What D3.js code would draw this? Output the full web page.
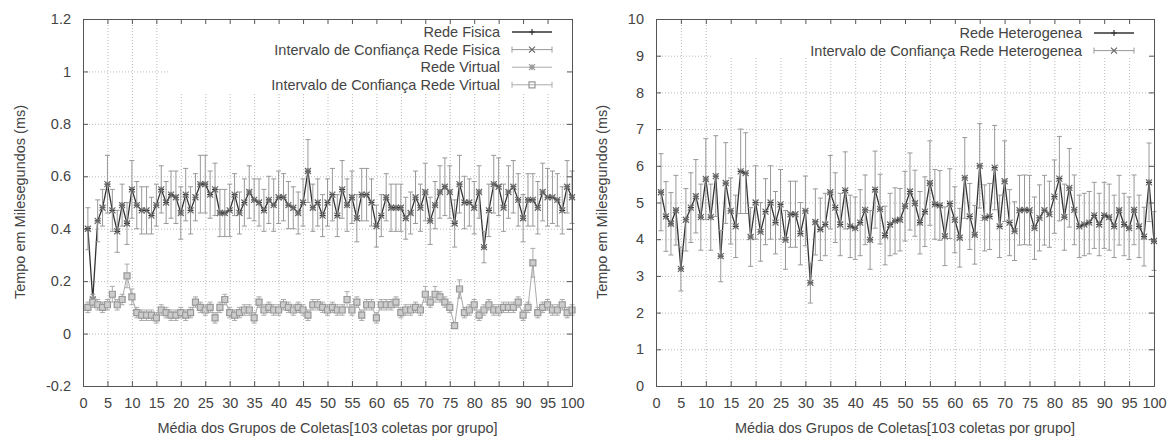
<!DOCTYPE html>
<html>
<head>
<meta charset="utf-8">
<script src="https://cdn.jsdelivr.net/npm/d3@7"></script>
<style>
	body { margin: 0; background: #fff; }
	svg { font-family: "Liberation Sans", Arial, sans-serif; }
	.axis text { font-size: 14.5px; fill: #444; }
	.axis path, .axis line { stroke: #555; }
	.mirror text { display: none; }
	.grid line { stroke: #bbb; stroke-dasharray: 1,2; }
	.grid path { display: none; }
	.title { font-size: 14.5px; fill: #444; }
	.key text { font-size: 14.5px; fill: #444; }
</style>
</head>
<body>
<script>
// group numbers on the x axis (1..100)
const groups = d3.range(1, 101);

const xTicks = [0, 5, 10, 15, 20, 25, 30, 35, 40, 45, 50, 55, 60, 65, 70, 75, 80, 85, 90, 95, 100];
const leftYTicks = [-0.2, 0, 0.2, 0.4, 0.6, 0.8, 1, 1.2];
const rightYTicks = [0, 1, 2, 3, 4, 5, 6, 7, 8, 9, 10];

// left chart: physical network mean + confidence half-width
const fisica = [
	0.40, 0.13, 0.43, 0.48, 0.57, 0.47, 0.39, 0.49, 0.42, 0.55,
	0.49, 0.47, 0.47, 0.45, 0.49, 0.55, 0.50, 0.53, 0.52, 0.46,
	0.53, 0.47, 0.52, 0.57, 0.57, 0.53, 0.55, 0.46, 0.46, 0.47,
	0.53, 0.46, 0.50, 0.54, 0.51, 0.50, 0.47, 0.51, 0.49, 0.52,
	0.52, 0.49, 0.48, 0.46, 0.50, 0.62, 0.48, 0.50, 0.45, 0.50,
	0.53, 0.45, 0.55, 0.49, 0.52, 0.44, 0.53, 0.53, 0.50, 0.41,
	0.45, 0.52, 0.48, 0.48, 0.48, 0.44, 0.46, 0.52, 0.48, 0.54,
	0.43, 0.49, 0.54, 0.56, 0.54, 0.42, 0.57, 0.50, 0.50, 0.48,
	0.54, 0.33, 0.47, 0.57, 0.56, 0.48, 0.54, 0.56, 0.51, 0.44,
	0.51, 0.51, 0.48, 0.54, 0.52, 0.52, 0.51, 0.47, 0.56, 0.52
];
const fisicaCI = [
	0.08, 0.02, 0.08, 0.07, 0.11, 0.08, 0.08, 0.08, 0.08, 0.11,
	0.09, 0.09, 0.09, 0.07, 0.08, 0.09, 0.08, 0.09, 0.10, 0.10,
	0.10, 0.09, 0.09, 0.11, 0.11, 0.09, 0.10, 0.09, 0.09, 0.10,
	0.08, 0.08, 0.09, 0.10, 0.08, 0.09, 0.08, 0.09, 0.10, 0.10,
	0.09, 0.09, 0.08, 0.08, 0.09, 0.12, 0.09, 0.09, 0.08, 0.09,
	0.10, 0.08, 0.11, 0.10, 0.10, 0.09, 0.10, 0.10, 0.09, 0.08,
	0.08, 0.09, 0.09, 0.09, 0.09, 0.08, 0.08, 0.10, 0.09, 0.11,
	0.09, 0.09, 0.10, 0.11, 0.10, 0.09, 0.11, 0.10, 0.09, 0.10,
	0.10, 0.06, 0.10, 0.11, 0.11, 0.09, 0.10, 0.10, 0.10, 0.09,
	0.10, 0.10, 0.10, 0.11, 0.11, 0.10, 0.10, 0.09, 0.10, 0.10
];

// left chart: virtual network mean + confidence half-width
const virtual = [
	0.10, 0.12, 0.11, 0.10, 0.11, 0.15, 0.11, 0.13, 0.22, 0.14,
	0.08, 0.07, 0.07, 0.07, 0.06, 0.09, 0.08, 0.07, 0.07, 0.08,
	0.07, 0.08, 0.12, 0.10, 0.09, 0.10, 0.06, 0.10, 0.13, 0.08,
	0.07, 0.08, 0.09, 0.09, 0.06, 0.12, 0.09, 0.10, 0.09, 0.09,
	0.11, 0.10, 0.09, 0.10, 0.09, 0.07, 0.11, 0.11, 0.10, 0.09,
	0.10, 0.09, 0.09, 0.13, 0.09, 0.12, 0.07, 0.11, 0.11, 0.06,
	0.11, 0.11, 0.11, 0.12, 0.08, 0.09, 0.09, 0.10, 0.09, 0.15,
	0.12, 0.15, 0.14, 0.12, 0.10, 0.03, 0.17, 0.08, 0.09, 0.11,
	0.07, 0.09, 0.11, 0.09, 0.09, 0.10, 0.10, 0.10, 0.12, 0.07,
	0.10, 0.27, 0.08, 0.10, 0.11, 0.09, 0.09, 0.11, 0.08, 0.09
];
const virtualCI = [
	0.02, 0.02, 0.02, 0.02, 0.02, 0.03, 0.02, 0.02, 0.045, 0.03,
	0.02, 0.02, 0.02, 0.02, 0.02, 0.02, 0.02, 0.02, 0.02, 0.02,
	0.02, 0.02, 0.02, 0.02, 0.02, 0.02, 0.02, 0.02, 0.02, 0.02,
	0.02, 0.02, 0.02, 0.02, 0.02, 0.02, 0.02, 0.02, 0.02, 0.02,
	0.02, 0.02, 0.02, 0.02, 0.02, 0.02, 0.02, 0.02, 0.02, 0.02,
	0.02, 0.02, 0.02, 0.03, 0.02, 0.02, 0.02, 0.02, 0.02, 0.02,
	0.02, 0.02, 0.02, 0.02, 0.02, 0.02, 0.02, 0.02, 0.02, 0.03,
	0.02, 0.03, 0.02, 0.02, 0.02, 0.01, 0.035, 0.02, 0.02, 0.02,
	0.02, 0.02, 0.02, 0.02, 0.02, 0.02, 0.02, 0.02, 0.02, 0.02,
	0.02, 0.055, 0.02, 0.02, 0.02, 0.02, 0.02, 0.02, 0.02, 0.02
];

// right chart: heterogeneous network mean + confidence half-width
const hetero = [
	5.28, 4.62, 4.42, 4.79, 3.19, 4.53, 4.86, 5.17, 4.60, 5.64,
	4.60, 5.72, 3.54, 5.53, 4.77, 4.35, 5.85, 5.80, 4.06, 5.00,
	4.20, 4.75, 5.00, 4.45, 4.95, 3.98, 4.68, 4.68, 4.15, 4.77,
	2.81, 4.47, 4.27, 4.40, 5.28, 4.86, 4.40, 5.33, 4.35, 4.30,
	4.45, 4.80, 3.98, 5.35, 4.82, 4.10, 4.40, 4.50, 4.53, 4.90,
	5.30, 4.98, 4.45, 4.75, 5.53, 4.95, 4.92, 4.08, 4.97, 4.53,
	4.04, 5.67, 4.62, 4.12, 6.00, 4.58, 4.62, 5.95, 4.35, 5.58,
	4.45, 4.22, 4.79, 4.80, 4.79, 4.30, 4.58, 4.79, 4.68, 5.16,
	5.65, 4.60, 5.40, 4.80, 4.35, 4.40, 4.45, 4.65, 4.40, 4.65,
	4.60, 4.35, 4.79, 4.40, 4.30, 4.80, 4.35, 4.07, 5.55, 3.95
];
const heteroCI = [
	1.05, 0.95, 0.85, 0.95, 0.60, 0.85, 0.95, 1.00, 0.90, 1.10,
	0.90, 1.10, 0.70, 1.10, 0.90, 0.85, 1.15, 1.10, 0.80, 1.00,
	0.80, 0.90, 1.00, 0.85, 0.95, 0.80, 0.90, 0.90, 0.85, 0.95,
	0.55, 0.90, 0.85, 0.85, 1.00, 0.95, 0.85, 1.05, 0.85, 0.85,
	0.90, 0.95, 0.80, 1.05, 0.95, 0.80, 0.85, 0.90, 0.85, 0.95,
	1.05, 0.90, 0.85, 0.95, 1.15, 0.95, 0.95, 0.80, 0.95, 0.90,
	0.80, 1.10, 0.90, 0.80, 1.15, 0.90, 0.90, 1.15, 0.85, 1.10,
	0.90, 0.80, 0.95, 0.95, 0.95, 0.85, 0.90, 0.95, 0.90, 1.00,
	1.15, 0.90, 1.07, 0.95, 0.85, 0.85, 0.85, 0.90, 0.85, 0.90,
	0.90, 0.85, 0.95, 0.85, 0.85, 0.95, 0.85, 0.80, 1.07, 0.80
];

const xTitle = "Média dos Grupos de Coletas[103 coletas por grupo]";
const yTitle = "Tempo em Milesegundos (ms)";

let svg = d3.select("body").append("svg")
	.attr("width", 1168)
	.attr("height", 437);

// point symbols, gnuplot style
function symbol(type, cx, cy, s) {
	let p = d3.path();
	if (type == "plus" || type == "star") {
		p.moveTo(cx - s, cy); p.lineTo(cx + s, cy);
		p.moveTo(cx, cy - s); p.lineTo(cx, cy + s);
	}
	if (type == "cross" || type == "star") {
		p.moveTo(cx - s, cy - s); p.lineTo(cx + s, cy + s);
		p.moveTo(cx - s, cy + s); p.lineTo(cx + s, cy - s);
	}
	if (type == "square") {
		p.rect(cx - s, cy - s, 2 * s, 2 * s);
	}
	return p.toString();
}

function drawPanel(cfg) {
	let xScale = d3.scaleLinear().domain([0, 100]).range(cfg.xRange);
	let yScale = d3.scaleLinear().domain(cfg.yDomain).range([386, 19]);
	let x0 = cfg.xRange[0], x1 = cfg.xRange[1];
	let g = svg.append("g");

	// grid
	g.append("g")
		.attr("class", "grid")
		.attr("transform", "translate(0,386)")
		.call(d3.axisBottom(xScale).tickValues(xTicks).tickSize(-367).tickFormat(""));
	g.append("g")
		.attr("class", "grid")
		.attr("transform", "translate(" + x0 + ",0)")
		.call(d3.axisLeft(yScale).tickValues(cfg.yTicks).tickSize(-(x1 - x0)).tickFormat(""));

	// key area is blank
	g.append("rect")
		.attr("x", cfg.keyBox[0]).attr("y", 20)
		.attr("width", x1 - cfg.keyBox[0] - 1).attr("height", cfg.keyBox[1] - 20)
		.attr("fill", "#fff");

	cfg.series.forEach(function(s) {
		let vals = s.values;
		if (s.kind == "line") {
			let line = d3.line()
				.x(function(d, i) { return xScale(groups[i]); })
				.y(function(d) { return yScale(d); });
			g.append("path")
				.datum(vals)
				.attr("d", line)
				.attr("fill", "none")
				.attr("stroke", s.color)
				.attr("stroke-width", s.width);
		} else {
			// error bars
			g.selectAll(null)
				.data(vals)
				.enter().append("path")
				.attr("d", function(d, i) {
					let cx = xScale(groups[i]);
					let lo = yScale(d - s.ci[i]), hi = yScale(d + s.ci[i]);
					return "M" + cx + "," + lo + "V" + hi +
						"M" + (cx - 2.5) + "," + lo + "h5" +
						"M" + (cx - 2.5) + "," + hi + "h5";
				})
				.attr("fill", "none")
				.attr("stroke", s.color)
				.attr("stroke-width", 1);
		}
		g.selectAll(null)
			.data(vals)
			.enter().append("path")
			.attr("d", function(d, i) { return symbol(s.marker, xScale(groups[i]), yScale(d), 3); })
			.attr("fill", s.marker == "square" ? "#ccc" : "none")
			.attr("stroke", s.markColor)
			.attr("stroke-width", 1.2);
	});

	// axes + mirrored ticks
	g.append("g")
		.attr("class", "axis")
		.attr("transform", "translate(0,386)")
		.call(d3.axisBottom(xScale).tickValues(xTicks).tickSize(-5).tickPadding(12).tickFormat(function(d) { return String(d); }));
	g.append("g")
		.attr("class", "axis mirror")
		.attr("transform", "translate(0,19)")
		.call(d3.axisTop(xScale).tickValues(xTicks).tickSize(-5));
	g.append("g")
		.attr("class", "axis")
		.attr("transform", "translate(" + x0 + ",0)")
		.call(d3.axisLeft(yScale).tickValues(cfg.yTicks).tickSize(-5).tickPadding(12).tickFormat(function(d) { return String(d); }));
	g.append("g")
		.attr("class", "axis mirror")
		.attr("transform", "translate(" + x1 + ",0)")
		.call(d3.axisRight(yScale).tickValues(cfg.yTicks).tickSize(-5));
	g.selectAll(".axis path").attr("stroke", "#555");

	// titles
	g.append("text")
		.attr("class", "title")
		.attr("text-anchor", "middle")
		.attr("x", (x0 + x1) / 2).attr("y", 433)
		.text(xTitle);
	g.append("text")
		.attr("class", "title")
		.attr("text-anchor", "middle")
		.attr("transform", "translate(" + cfg.yTitleX + ",202) rotate(-90)")
		.text(yTitle);

	// key
	let key = g.append("g").attr("class", "key");
	cfg.series.forEach(function(s, k) {
		let ky = cfg.keyY + k * 17.6;
		let sx0 = cfg.keyX + 12, sx1 = cfg.keyX + 52, mid = (sx0 + sx1) / 2;
		key.append("text")
			.attr("x", cfg.keyX).attr("y", ky)
			.attr("dy", "0.35em")
			.attr("text-anchor", "end")
			.text(s.name);
		let d = "M" + sx0 + "," + ky + "H" + sx1;
		if (s.kind == "bars") {
			d += "M" + sx0 + "," + (ky - 3) + "v6M" + sx1 + "," + (ky - 3) + "v6";
		}
		key.append("path")
			.attr("d", d)
			.attr("fill", "none")
			.attr("stroke", s.color)
			.attr("stroke-width", s.kind == "line" ? s.width : 1);
		key.append("path")
			.attr("d", symbol(s.marker, mid, ky, 3))
			.attr("fill", "none")
			.attr("stroke", s.markColor)
			.attr("stroke-width", 1.2);
	});
}

drawPanel({
	xRange: [83, 572],
	yDomain: [-0.2, 1.2],
	yTicks: leftYTicks,
	yTitleX: 25,
	keyBox: [168, 94],
	keyX: 500,
	keyY: 32,
	series: [
		{name: "Rede Fisica", kind: "line", values: fisica, color: "#333", width: 1.3, marker: "plus", markColor: "#333"},
		{name: "Intervalo de Confiança Rede Fisica", kind: "bars", values: fisica, ci: fisicaCI, color: "#999", marker: "cross", markColor: "#666"},
		{name: "Rede Virtual", kind: "line", values: virtual, color: "#aaa", width: 1, marker: "star", markColor: "#999"},
		{name: "Intervalo de Confiança Rede Virtual", kind: "bars", values: virtual, ci: virtualCI, color: "#aaa", marker: "square", markColor: "#999"}
	]
});

drawPanel({
	xRange: [656, 1154],
	yDomain: [0, 10],
	yTicks: rightYTicks,
	yTitleX: 607,
	keyBox: [712, 58],
	keyX: 1082,
	keyY: 33,
	series: [
		{name: "Rede Heterogenea", kind: "line", values: hetero, color: "#333", width: 1.3, marker: "plus", markColor: "#333"},
		{name: "Intervalo de Confiança Rede Heterogenea", kind: "bars", values: hetero, ci: heteroCI, color: "#999", marker: "cross", markColor: "#666"}
	]
});
</script>
</body>
</html>
